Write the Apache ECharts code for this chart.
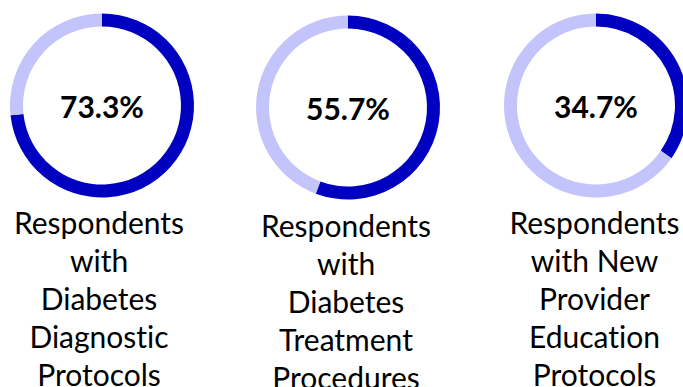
<!DOCTYPE html>
<html>
<head>
<meta charset="utf-8">
<script src="https://cdn.jsdelivr.net/npm/echarts@6/dist/echarts.min.js"></script>
<style>
html,body{margin:0;padding:0;background:#fff;}
#chart{width:683px;height:387px;}
#chart text{font-variant-ligatures:none !important;font-feature-settings:"liga" 0,"clig" 0 !important;}
</style>
</head>
<body>
<div id="chart"></div>
<script>
const categories = [
  "Respondents\nwith\nDiabetes\nDiagnostic\nProtocols",
  "Respondents\nwith\nDiabetes\nTreatment\nProcedures",
  "Respondents\nwith New\nProvider\nEducation\nProtocols"
];
const values = [73.3, 55.7, 34.7];

const centers = [[102, 105.5], [348, 107.5], [596, 105.5]];
const labelPos = [[99, 203], [346, 206], [594.5, 203]];
const DARK = '#0000c0', LIGHT = '#c4c4fd';

const chart = echarts.init(document.getElementById('chart'), null, {renderer: 'svg'});
const series = values.map((v, i) => ({
  type: 'pie',
  silent: true,
  animation: false,
  center: centers[i],
  radius: [79, 92],
  startAngle: 90,
  clockwise: true,
  labelLine: {show: false},
  data: [
    {value: v, name: 'yes', itemStyle: {color: DARK},
     label: {show: true, position: 'center', formatter: v.toFixed(1) + '%',
             fontFamily: 'Lato', fontWeight: 'bold', fontSize: 30, color: '#000'}},
    {value: +(100 - v).toFixed(1), name: 'no', itemStyle: {color: LIGHT}, label: {show: false}}
  ]
}));
const texts = categories.map((c, i) => ({
  type: 'text',
  x: labelPos[i][0],
  y: labelPos[i][1],
  silent: true,
  style: {
    text: c,
    fill: '#000',
    font: 'normal 30px Lato',
    lineHeight: 38,
    align: 'center',
    verticalAlign: 'top'
  }
}));
chart.setOption({
  backgroundColor: '#fff',
  animation: false,
  graphic: texts,
  series: series
});
</script>
</body>
</html>
